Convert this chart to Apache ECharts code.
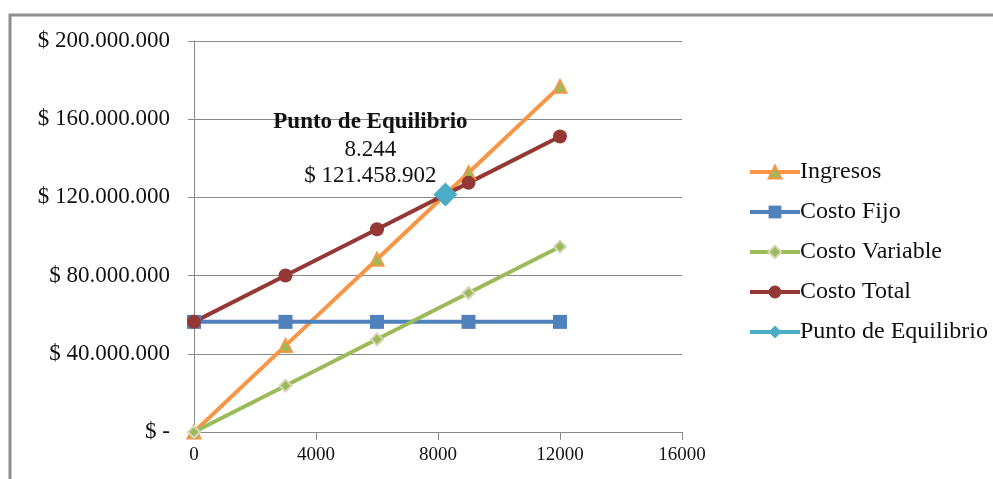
<!DOCTYPE html>
<html>
<head>
<meta charset="utf-8">
<style>
  html, body { margin: 0; padding: 0; background: #fff; }
  #chart { width: 993px; height: 479px; }
</style>
<script src="https://cdn.jsdelivr.net/npm/echarts@6/dist/echarts.min.js"></script>
</head>
<body>
<div id="chart"></div>
<script>
// Unidades producidas
const unidades = [0, 3000, 6000, 9000, 12000];
// Valores en pesos
const ingresos = [0, 44199000, 88398000, 132597000, 176796000];
const costoFijo = [56331000, 56331000, 56331000, 56331000, 56331000];
const costoVariable = [0, 23700000, 47400000, 71100000, 94800000];
const costoTotal = [56331000, 80031000, 103731000, 127431000, 151131000];
// Punto de equilibrio (unidades, pesos)
const peUnidades = [8244];
const peValor = [121458902];

const serif = '"Liberation Serif", "Times New Roman", serif';

function miles(n) {
  return String(Math.round(n)).replace(/\B(?=(\d{3})+(?!\d))/g, '.');
}
function pares(xs, ys) {
  return xs.map((x, i) => [x, ys[i]]);
}

const chart = echarts.init(document.getElementById('chart'), null, { renderer: 'canvas' });

const lineBase = { type: 'line', lineStyle: { width: 4 }, animation: false, z: 2 };

chart.setOption({
  backgroundColor: '#fff',
  textStyle: { fontFamily: serif },
  graphic: [{
    type: 'rect',
    shape: { x: 10, y: 15, width: 1100, height: 600 },
    style: { fill: 'none', stroke: '#8e8e8e', lineWidth: 3 },
    silent: true, z: -1
  }],
  grid: { left: 194, right: 311, top: 41, bottom: 47 },
  xAxis: {
    type: 'value', min: 0, max: 16000, interval: 4000,
    axisLine: { show: true, onZero: false, lineStyle: { color: '#8a8a8a', width: 1 } },
    axisTick: { show: true, inside: false, length: 8, lineStyle: { color: '#8a8a8a' } },
    splitLine: { show: false },
    axisLabel: {
      color: '#111', fontFamily: serif, fontSize: 19, margin: 14,
      formatter: v => String(v)
    }
  },
  yAxis: {
    type: 'value', min: 0, max: 200000000, interval: 40000000,
    axisLine: { show: true, lineStyle: { color: '#8a8a8a', width: 1 } },
    axisTick: { show: true, inside: false, length: 6, lineStyle: { color: '#8a8a8a' } },
    splitLine: { show: true, lineStyle: { color: '#8a8a8a', width: 1 } },
    axisLabel: {
      color: '#111', fontFamily: serif, fontSize: 23, margin: 24,
      formatter: v => v === 0 ? '$ -' : '$ ' + miles(v)
    }
  },
  legend: {
    orient: 'vertical', left: 743, top: 155,
    itemWidth: 50, itemHeight: 16, itemGap: 16,
    lineStyle: { width: 4 },
    textStyle: { fontFamily: serif, fontSize: 24, color: '#111', padding: [0, 0, 0, -5] },
    data: ['Ingresos', 'Costo Fijo', 'Costo Variable', 'Costo Total', 'Punto de Equilibrio']
  },
  series: [
    Object.assign({}, lineBase, {
      name: 'Ingresos', data: pares(unidades, ingresos),
      color: '#F79646',
      symbol: 'triangle', symbolSize: 13,
      itemStyle: { color: '#9BBB59', borderColor: '#F79646', borderWidth: 2 },
      lineStyle: { width: 4, color: '#F79646' }
    }),
    Object.assign({}, lineBase, {
      name: 'Costo Fijo', data: pares(unidades, costoFijo),
      color: '#4F81BD',
      symbol: 'rect', symbolSize: 14,
      itemStyle: { color: '#4F81BD', borderWidth: 0 },
      lineStyle: { width: 4, color: '#4F81BD' }
    }),
    Object.assign({}, lineBase, {
      name: 'Costo Variable', data: pares(unidades, costoVariable),
      color: '#9BBB59',
      symbol: 'diamond', symbolSize: 12,
      itemStyle: { color: '#9BBB59', borderColor: '#D9D6BC', borderWidth: 2 },
      lineStyle: { width: 4, color: '#9BBB59' }
    }),
    Object.assign({}, lineBase, {
      name: 'Costo Total', data: pares(unidades, costoTotal),
      color: '#953735',
      symbol: 'circle', symbolSize: 14,
      itemStyle: { color: '#953735', borderWidth: 0 },
      lineStyle: { width: 4, color: '#953735' }
    }),
    Object.assign({}, lineBase, {
      name: 'Punto de Equilibrio', data: pares(peUnidades, peValor),
      color: '#4BACC6',
      symbol: 'diamond', symbolSize: 24, z: 5,
      itemStyle: { color: '#4BACC6', borderWidth: 0 },
      lineStyle: { width: 4, color: '#4BACC6' },
      label: {
        show: true, position: 'top', distance: 0, offset: [-75, 6],
        align: 'center',
        formatter: p => '{t|Punto de Equilibrio}\n{n|' + miles(p.value[0]) + '}\n{n|$ ' + miles(p.value[1]) + '}',
        rich: {
          t: { fontFamily: serif, fontSize: 23, fontWeight: 'bold', color: '#111', lineHeight: 28 },
          n: { fontFamily: serif, fontSize: 23, color: '#111', lineHeight: 26 }
        }
      }
    })
  ]
});
</script>
</body>
</html>
